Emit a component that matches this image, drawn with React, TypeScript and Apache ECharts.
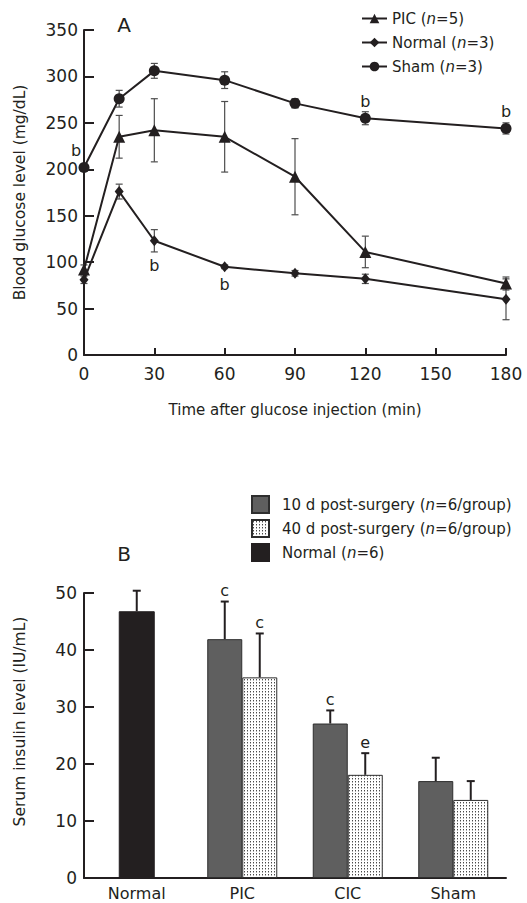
import React, { useEffect, useRef } from 'react';
import * as echarts from 'echarts';

// ---------- Panel A data ----------
const times = [0, 15, 30, 60, 90, 120, 180];
const picMean = [92, 235, 242, 235, 192, 111, 77];
const picErr = [5, 23, 34, 38, 41, 17, 7];
const normalMean = [81, 176, 123, 95, 88, 82, 60];
const normalErr = [4, 8, 12, 2, 3, 5, 22];
const shamMean = [202, 276, 306, 296, 271, 255, 244];
const shamErr = [3, 9, 8, 9, 5, 7, 6];
const shamMarks = ['b', '', '', '', '', 'b', 'b'];
const normalMarks = ['', '', 'b', 'b', '', '', ''];

// ---------- Panel B data ----------
const insulinGroups = ['Normal', 'PIC', 'CIC', 'Sham'];
const normalInsulin = [46.8, null, null, null];
const normalInsulinErr = [3.6, null, null, null];
const tenDay = [null, 41.9, 27.1, 17.0];
const tenDayErr = [null, 6.6, 2.3, 4.1];
const tenDayMarks = ['', 'c', 'c', ''];
const fortyDay = [null, 35.2, 18.1, 13.7];
const fortyDayErr = [null, 7.7, 3.8, 3.3];
const fortyDayMarks = ['', 'c', 'e', ''];

const INK = '#231f20';
const FONT = 'DejaVu Sans';
const BAR_W = 35;

function makeDotPattern() {
  const c = document.createElement('canvas');
  c.width = 3;
  c.height = 3;
  const g = c.getContext('2d')!;
  g.fillStyle = '#ffffff';
  g.fillRect(0, 0, 3, 3);
  g.fillStyle = '#4a4a4a';
  g.fillRect(1, 1, 1, 1);
  g.fillStyle = '#b0b0b0';
  g.fillRect(1, 2, 1, 1);
  return { image: c, repeat: 'repeat', imageWidth: 3, imageHeight: 3 } as any;
}

const legendFormatter = (name: string) => {
  const parts = name.split('n=');
  return `{t|${parts[0]}}{i|n}{t|=${parts[1]}}`;
};

const richText = {
  t: { fontSize: 15, fontFamily: FONT, color: INK },
  i: { fontSize: 15, fontFamily: FONT, color: INK, fontStyle: 'italic' },
};

type Place = { position: string; distance: number; offset?: number[] };

function lineData(mean: number[], marks: string[], places: Record<number, Place>) {
  return times.map((t, i) => {
    if (!marks[i]) return [t, mean[i]];
    const p = places[i];
    return {
      value: [t, mean[i]],
      label: {
        show: true,
        formatter: marks[i],
        position: p.position,
        distance: p.distance,
        offset: p.offset || [0, 0],
        fontSize: 16,
        fontFamily: FONT,
        color: INK,
      },
    };
  });
}

function errorSeriesA(mean: number[], err: number[]) {
  return {
    type: 'custom',
    xAxisIndex: 0,
    yAxisIndex: 0,
    z: 1,
    silent: true,
    data: times.map((t, i) => [t, mean[i], err[i]]),
    renderItem: (params: any, api: any) => {
      const x = api.value(0);
      const m = api.value(1);
      const e = api.value(2);
      const top = api.coord([x, m + e]);
      const bot = api.coord([x, m - e]);
      const hw = 3.5;
      const st = { stroke: '#4d4d4d', lineWidth: 1.2 };
      return {
        type: 'group',
        children: [
          { type: 'line', shape: { x1: top[0], y1: top[1], x2: bot[0], y2: bot[1] }, style: st },
          { type: 'line', shape: { x1: top[0] - hw, y1: top[1], x2: top[0] + hw, y2: top[1] }, style: st },
          { type: 'line', shape: { x1: bot[0] - hw, y1: bot[1], x2: bot[0] + hw, y2: bot[1] }, style: st },
        ],
      };
    },
  };
}

function errorSeriesB(vals: (number | null)[], errs: (number | null)[], marks: string[], xAxisIndex: number, offset: number) {
  const idx: number[] = [];
  vals.forEach((v, i) => {
    if (v != null) idx.push(i);
  });
  return {
    type: 'custom',
    xAxisIndex,
    yAxisIndex: 1,
    z: 3,
    silent: true,
    data: idx.map((i) => [i, vals[i], errs[i]]),
    renderItem: (params: any, api: any) => {
      const cat = api.value(0);
      const m = api.value(1);
      const e = api.value(2);
      const base = api.coord([cat, m]);
      const top = api.coord([cat, m + e]);
      const x = base[0] + offset;
      const hw = 4;
      const st = { stroke: INK, lineWidth: 2 };
      const mark = marks[idx[params.dataIndex]];
      const children: any[] = [
        { type: 'line', shape: { x1: x, y1: base[1], x2: x, y2: top[1] }, style: st },
        { type: 'line', shape: { x1: x - hw, y1: top[1], x2: x + hw, y2: top[1] }, style: st },
      ];
      if (mark) {
        children.push({
          type: 'text',
          x,
          y: top[1] - 3,
          style: {
            text: mark,
            textAlign: 'center',
            textVerticalAlign: 'bottom',
            fontSize: 16,
            fontFamily: FONT,
            fill: INK,
          },
        });
      }
      return { type: 'group', children };
    },
  };
}

export default function App() {
  const ref = useRef<HTMLDivElement>(null);
  useEffect(() => {
    const chart = echarts.init(ref.current!, null, { renderer: 'svg' });
    const axisLine = { lineStyle: { color: INK, width: 2 } };
    const option: any = {
      animation: false,
      backgroundColor: '#ffffff',
      textStyle: { fontFamily: FONT, color: INK },
      grid: [
        { left: 84, right: 21, top: 30, bottom: 548 },
        { left: 84, right: 21, top: 593, bottom: 25 },
      ],
      graphic: [
        { type: 'text', x: 124, y: 25, style: { text: 'A', fontSize: 20, fontFamily: FONT, fill: INK, textAlign: 'center', textVerticalAlign: 'middle' } },
        { type: 'text', x: 124, y: 554, style: { text: 'B', fontSize: 20, fontFamily: FONT, fill: INK, textAlign: 'center', textVerticalAlign: 'middle' } },
      ],
      legend: [
        {
          orient: 'vertical',
          left: 356,
          top: 6,
          itemWidth: 25,
          itemHeight: 12,
          itemGap: 9,
          selectedMode: false,
          data: ['PIC (n=5)', 'Normal (n=3)', 'Sham (n=3)'],
          formatter: legendFormatter,
          textStyle: { rich: richText },
        },
        {
          orient: 'vertical',
          left: 246,
          top: 490,
          itemWidth: 17,
          itemHeight: 17,
          itemGap: 5,
          selectedMode: false,
          icon: 'rect',
          data: ['10 d post-surgery (n=6/group)', '40 d post-surgery (n=6/group)', 'Normal (n=6)'],
          formatter: legendFormatter,
          textStyle: { rich: richText, padding: [0, 0, 0, 8] },
        },
      ],
      xAxis: [
        {
          type: 'value',
          gridIndex: 0,
          min: 0,
          max: 180,
          interval: 30,
          name: 'Time after glucose injection (min)',
          nameLocation: 'middle',
          nameGap: 47,
          nameTextStyle: { fontSize: 15, fontFamily: FONT, color: INK },
          axisLine,
          axisTick: { inside: true, length: 7, lineStyle: { color: INK, width: 2 } },
          axisLabel: { fontSize: 17, fontFamily: FONT, color: INK, margin: 10 },
          splitLine: { show: false },
        },
        {
          type: 'category',
          gridIndex: 1,
          data: insulinGroups,
          axisLine,
          axisTick: { inside: true, length: 6, lineStyle: { color: INK, width: 2 } },
          axisLabel: { fontSize: 16, fontFamily: FONT, color: INK, margin: 7 },
        },
        {
          type: 'category',
          gridIndex: 1,
          data: insulinGroups,
          show: false,
        },
      ],
      yAxis: [
        {
          type: 'value',
          gridIndex: 0,
          min: 0,
          max: 350,
          interval: 50,
          name: 'Blood glucose level (mg/dL)',
          nameLocation: 'middle',
          nameGap: 56,
          nameTextStyle: { fontSize: 15.5, fontFamily: FONT, color: INK },
          axisLine: { show: true, ...axisLine },
          axisTick: { show: true, inside: true, length: 10, lineStyle: { color: INK, width: 2 } },
          axisLabel: { fontSize: 17, fontFamily: FONT, color: INK, margin: 6 },
          splitLine: { show: false },
        },
        {
          type: 'value',
          gridIndex: 1,
          min: 0,
          max: 50,
          interval: 10,
          name: 'Serum insulin level (IU/mL)',
          nameLocation: 'middle',
          nameGap: 56,
          nameTextStyle: { fontSize: 15.5, fontFamily: FONT, color: INK, padding: [0, 0, 0, 28] },
          axisLine: { show: true, ...axisLine },
          axisTick: { show: true, inside: true, length: 10, lineStyle: { color: INK, width: 2 } },
          axisLabel: { fontSize: 17, fontFamily: FONT, color: INK, margin: 7 },
          splitLine: { show: false },
        },
      ],
      series: [
        errorSeriesA(picMean, picErr),
        errorSeriesA(normalMean, normalErr),
        errorSeriesA(shamMean, shamErr),
        {
          name: 'PIC (n=5)',
          type: 'line',
          xAxisIndex: 0,
          yAxisIndex: 0,
          z: 2,
          symbol: 'triangle',
          symbolSize: 12,
          color: INK,
          lineStyle: { color: INK, width: 2 },
          itemStyle: { color: INK },
          data: times.map((t, i) => [t, picMean[i]]),
        },
        {
          name: 'Normal (n=3)',
          type: 'line',
          xAxisIndex: 0,
          yAxisIndex: 0,
          z: 2,
          symbol: 'diamond',
          symbolSize: [9, 11],
          color: INK,
          lineStyle: { color: INK, width: 2 },
          itemStyle: { color: INK },
          data: lineData(normalMean, normalMarks, {
            2: { position: 'bottom', distance: 11 },
            3: { position: 'bottom', distance: 4 },
          }),
        },
        {
          name: 'Sham (n=3)',
          type: 'line',
          xAxisIndex: 0,
          yAxisIndex: 0,
          z: 2,
          symbol: 'circle',
          symbolSize: 11,
          color: INK,
          lineStyle: { color: INK, width: 2 },
          itemStyle: { color: INK },
          data: lineData(shamMean, shamMarks, {
            0: { position: 'top', distance: 3, offset: [-8, 0] },
            5: { position: 'top', distance: 3 },
            6: { position: 'top', distance: 3 },
          }),
        },
        {
          name: '10 d post-surgery (n=6/group)',
          type: 'bar',
          xAxisIndex: 1,
          yAxisIndex: 1,
          barWidth: BAR_W,
          barGap: '0%',
          itemStyle: { color: '#5f5f5f', borderColor: '#2e2e2e', borderWidth: 1 },
          data: tenDay.map((v) => (v == null ? '-' : v)),
        },
        {
          name: '40 d post-surgery (n=6/group)',
          type: 'bar',
          xAxisIndex: 1,
          yAxisIndex: 1,
          barWidth: BAR_W,
          barGap: '0%',
          itemStyle: { color: makeDotPattern(), borderColor: '#2e2e2e', borderWidth: 1 },
          data: fortyDay.map((v) => (v == null ? '-' : v)),
        },
        {
          name: 'Normal (n=6)',
          type: 'bar',
          xAxisIndex: 2,
          yAxisIndex: 1,
          barWidth: 36,
          itemStyle: { color: INK, borderColor: INK, borderWidth: 1 },
          data: normalInsulin.map((v) => (v == null ? '-' : v)),
        },
        errorSeriesB(tenDay, tenDayErr, tenDayMarks, 1, -BAR_W / 2),
        errorSeriesB(fortyDay, fortyDayErr, fortyDayMarks, 1, BAR_W / 2),
        errorSeriesB(normalInsulin, normalInsulinErr, ['', '', '', ''], 2, 0),
      ],
    };
    chart.setOption(option);
    return () => chart.dispose();
  }, []);
  return (
    <div
      ref={ref}
      style={{ position: 'fixed', left: 0, top: 0, width: 527, height: 903, background: '#fff' }}
    />
  );
}
